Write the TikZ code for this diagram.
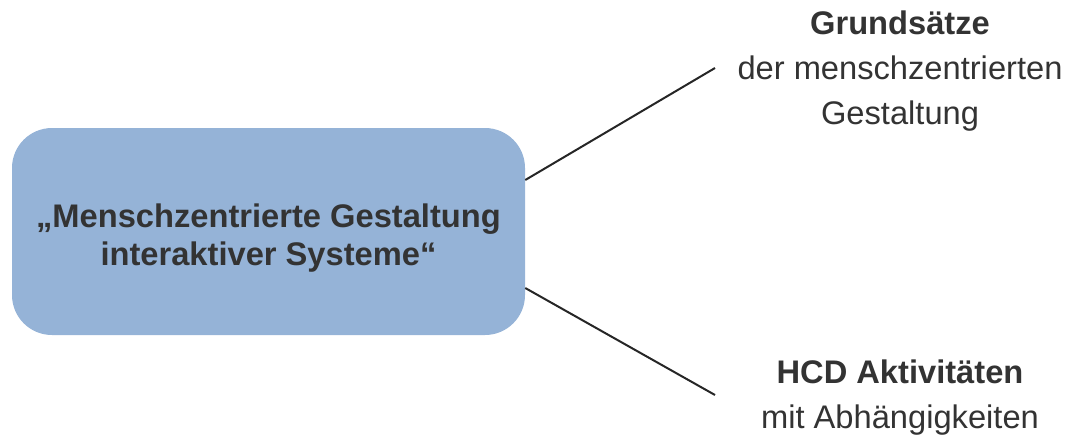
\documentclass[tikz,border=0pt]{standalone}
\usepackage{fontspec}
\setmainfont{Liberation Sans}
\definecolor{boxblue}{RGB}{149,179,215}
\definecolor{txtgray}{RGB}{51,51,51}
\definecolor{linegray}{RGB}{38,38,38}
\tikzset{
  topic/.style={fill=boxblue, rounded corners=30pt, minimum width=384.75pt, minimum height=155.25pt, align=center, text=txtgray, font=\fontsize{24.5}{29}\selectfont\bfseries},
  branch/.style={align=center, text=txtgray, font=\fontsize{24.5}{33.75}\selectfont},
  link/.style={draw=linegray, line width=1.5pt}
}
\begin{document}
\begin{tikzpicture}[x=0.75pt,y=0.75pt,yscale=-1,xscale=1]
        \useasboundingbox (0,0) rectangle (1069,440);
        % Main topic
        \node [topic] (main) at (268.5,231.5) {};
        \node [align=center, text=txtgray, font=\fontsize{24.5}{29}\selectfont\bfseries] (mainlabel) at (268.5,238) {„Menschzentrierte Gestaltung\\interaktiver Systeme“};
        % Branch texts
        \node [branch] (grund) at (900,71) {\textbf{Grundsätze}\\der menschzentrierten\\Gestaltung};
        \node [branch] (hcd) at (900,398) {\textbf{HCD Aktivitäten}\\mit Abhängigkeiten};
        % Connectors
        \coordinate (grundend) at (715,68);
        \coordinate (hcdend) at (715,395);
        \draw [link] (main.east |- 0,180) -- (grundend);
        \draw [link] (main.east |- 0,288) -- (hcdend);
\end{tikzpicture}
\end{document}
